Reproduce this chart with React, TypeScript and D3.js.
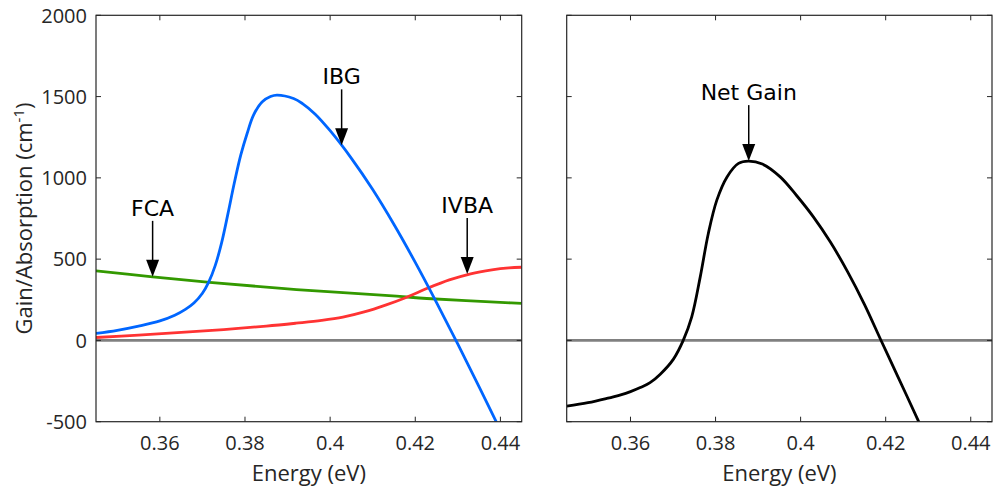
import React from 'react';
import * as d3 from 'd3';

// ---- Data ----
const ibgEnergy = [0.345, 0.35, 0.355, 0.36, 0.3635, 0.366, 0.368, 0.37, 0.3715, 0.373, 0.3745, 0.376, 0.3775, 0.379, 0.3805, 0.382, 0.384, 0.386, 0.3875, 0.3914, 0.3935, 0.3965, 0.4, 0.405, 0.41, 0.415, 0.42, 0.425, 0.43, 0.435, 0.44];
const ibgValues = [43, 62, 88, 120, 155, 191, 230, 290, 360, 460, 600, 780, 970, 1140, 1273, 1386, 1467, 1500, 1509, 1488, 1457, 1392, 1290, 1120, 928, 713, 480, 233, -23, -286, -553];

const fcaEnergy = [0.345, 0.3583, 0.3717, 0.3921, 0.4156, 0.4227, 0.4424, 0.445];
const fcaValues = [428, 391, 357, 313, 272, 258, 231, 228];

const ivbaEnergy = [0.345, 0.355, 0.365, 0.375, 0.385, 0.392, 0.398, 0.403, 0.408, 0.413, 0.418, 0.423, 0.428, 0.433, 0.438, 0.442, 0.445];
const ivbaValues = [18, 33, 49, 67, 88, 106, 123, 143, 175, 217, 266, 322, 372, 410, 434, 446, 450];

const netEnergy = [0.345, 0.35, 0.3544, 0.3575, 0.36, 0.3623, 0.3646, 0.367, 0.3701, 0.3724, 0.3744, 0.3764, 0.3783, 0.3803, 0.3827, 0.3854, 0.3877, 0.391, 0.3952, 0.399, 0.403, 0.407, 0.411, 0.415, 0.419, 0.423, 0.4276, 0.429];
const netValues = [-404, -383, -357, -336, -315, -290, -260, -208, -115, 0, 145, 391, 658, 863, 1006, 1089, 1103, 1085, 1006, 893, 760, 605, 425, 222, -5, -230, -490, -570];

const xTicks = [0.36, 0.38, 0.4, 0.42, 0.44];
const xTickLabels = ['0.36', '0.38', '0.4', '0.42', '0.44'];
const yTicks = [-500, 0, 500, 1000, 1500, 2000];
const yTickLabels = ['-500', '0', '500', '1000', '1500', '2000'];

const annotationLabels = ['IBG', 'FCA', 'IVBA', 'Net Gain'];
const annotationEnergy = [0.4027, 0.3583, 0.4322, 0.3878];
const annotationValue = [1200, 391, 408, 1103];
const annotationPanel = [0, 0, 0, 1];

const xDomain = [0.345, 0.445];
const yDomain = [-500, 2000];

const AXIS = '#262626';
const TICK_FONT = '"Open Sans", sans-serif';
const ANN_FONT = '"DejaVu Sans", Verdana, sans-serif';

export default function App() {
  const W = 994, H = 492;
  const top = 15.3, bottom = 421.7;
  const panels = [
    { x0: 96, x1: 521.7 },
    { x0: 566.7, x1: 992 },
  ];
  const y = d3.scaleLinear().domain(yDomain).range([bottom, top]);
  const xs = panels.map((p) => d3.scaleLinear().domain(xDomain).range([p.x0, p.x1]));

  const mkLine = (x: d3.ScaleLinear<number, number>, es: number[], vs: number[]) =>
    d3.line<number>()
      .x((_, i) => x(es[i]))
      .y((v) => y(v))
      .curve(d3.curveCatmullRom.alpha(0.5))(vs) || '';

  const tickLen = 5;

  const renderFrame = (pi: number) => {
    const p = panels[pi];
    const x = xs[pi];
    return (
      <g key={'frame' + pi}>
        {xTicks.map((t, i) => (
          <g key={'xt' + i}>
            <line x1={x(t)} x2={x(t)} y1={bottom} y2={bottom - tickLen} stroke={AXIS} strokeWidth={1} />
            <line x1={x(t)} x2={x(t)} y1={top} y2={top + tickLen} stroke={AXIS} strokeWidth={1} />
            <text x={x(t)} y={450} textAnchor="middle" fontFamily={TICK_FONT} fontSize={20} fill={AXIS}>
              {xTickLabels[i]}
            </text>
          </g>
        ))}
        {yTicks.map((t, i) => (
          <g key={'yt' + i}>
            <line x1={p.x0} x2={p.x0 + tickLen} y1={y(t)} y2={y(t)} stroke={AXIS} strokeWidth={1} />
            <line x1={p.x1} x2={p.x1 - tickLen} y1={y(t)} y2={y(t)} stroke={AXIS} strokeWidth={1} />
            {pi === 0 && (
              <text x={p.x0 - 9} y={y(t)} dy="0.36em" textAnchor="end" fontFamily={TICK_FONT} fontSize={20} fill={AXIS}>
                {yTickLabels[i]}
              </text>
            )}
          </g>
        ))}
        <rect x={p.x0} y={top} width={p.x1 - p.x0} height={bottom - top} fill="none" stroke={AXIS} strokeWidth={1.2} />
        <text x={(p.x0 + p.x1) / 2} y={481} textAnchor="middle" fontFamily={TICK_FONT} fontSize={22} fill={AXIS}>
          Energy (eV)
        </text>
      </g>
    );
  };

  return (
    <svg width={W} height={H} style={{ position: 'absolute', left: 0, top: 0, background: '#fff' }}>
      <rect x={0} y={0} width={W} height={H} fill="#fff" />
      <defs>
        {panels.map((p, i) => (
          <clipPath id={'clip' + i} key={i}>
            <rect x={p.x0} y={top} width={p.x1 - p.x0} height={bottom - top} />
          </clipPath>
        ))}
      </defs>
      {/* left panel */}
      <g clipPath="url(#clip0)">
        <line x1={panels[0].x0} x2={panels[0].x1} y1={y(0)} y2={y(0)} stroke="#808080" strokeWidth={2.8} />
        <path d={mkLine(xs[0], fcaEnergy, fcaValues)} fill="none" stroke="#339900" strokeWidth={2.8} />
        <path d={mkLine(xs[0], ivbaEnergy, ivbaValues)} fill="none" stroke="#ff3333" strokeWidth={2.8} />
        <path d={mkLine(xs[0], ibgEnergy, ibgValues)} fill="none" stroke="#0066ff" strokeWidth={2.8} />
      </g>
      {/* right panel */}
      <g clipPath="url(#clip1)">
        <line x1={panels[1].x0} x2={panels[1].x1} y1={y(0)} y2={y(0)} stroke="#808080" strokeWidth={2.8} />
        <path d={mkLine(xs[1], netEnergy, netValues)} fill="none" stroke="#000" strokeWidth={2.8} />
      </g>
      {renderFrame(0)}
      {renderFrame(1)}
      {/* annotations */}
      {annotationLabels.map((lab, i) => {
        const x = xs[annotationPanel[i]];
        const tx = x(annotationEnergy[i]);
        const ty = y(annotationValue[i]);
        const headLen = 17, headW = 6.5;
        return (
          <g key={'ann' + i}>
            <text x={tx} y={ty - 61} textAnchor="middle" fontFamily={ANN_FONT} fontSize={22} fill="#000">
              {lab}
            </text>
            <line x1={tx} x2={tx} y1={ty - 56} y2={ty - headLen + 1} stroke="#000" strokeWidth={1.5} />
            <polygon points={`${tx - headW},${ty - headLen} ${tx + headW},${ty - headLen} ${tx},${ty}`} fill="#000" />
          </g>
        );
      })}
      {/* y label */}
      <text transform={`translate(32,${(top + bottom) / 2}) rotate(-90)`} textAnchor="middle" fontFamily={TICK_FONT} fontSize={22} fill={AXIS}>
        Gain/Absorption (cm<tspan dy={-8} fontSize={15}>-1</tspan><tspan dy={8}>)</tspan>
      </text>
    </svg>
  );
}
